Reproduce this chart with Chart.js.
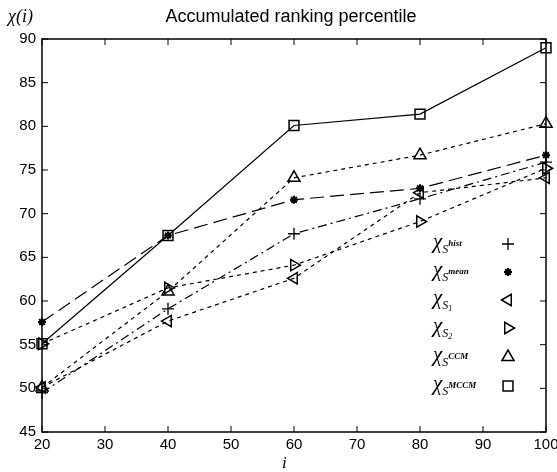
<!DOCTYPE html>
<html>
<head>
<meta charset="utf-8">
<script src="https://cdn.jsdelivr.net/npm/chart.js@4/dist/chart.umd.min.js"></script>
<style>
body { margin: 0; background: #fff; }
#wrap { position: relative; width: 557px; height: 472px; }
.txt { position: absolute; color: #000; white-space: nowrap; }
#title { left: 0; width: 582px; top: 6px; text-align: center; font: 18px "Liberation Sans", Arial, sans-serif; }
#ylab { left: 8px; top: 6px; font: italic 18px "Liberation Serif", "DejaVu Serif", serif; }
#xlab { left: 282px; top: 453px; font: italic 17px "Liberation Serif", "DejaVu Serif", serif; }
.leg { left: 433px; font: italic 21px "Liberation Serif", "DejaVu Serif", serif; line-height: 22px; }
.leg sub { font-size: 12px; vertical-align: -5px; }
.leg sub sup { font-size: 9px; font-weight: bold; vertical-align: 7px; }
.leg sub sub { font-size: 8px; vertical-align: -2px; }
</style>
</head>
<body>
<div id="wrap">
  <canvas id="chart" width="557" height="472"></canvas>
  <div class="txt" id="title">Accumulated ranking percentile</div>
  <div class="txt" id="ylab">χ(<i>i</i>)</div>
  <div class="txt" id="xlab">i</div>
</div>
<script>
// data
const positions = [20, 40, 60, 80, 100];
const hist = [49.5, 59.1, 67.7, 71.7, 75.9];
const mean = [57.6, 67.5, 71.6, 72.9, 76.7];
const s1 = [50.1, 57.7, 62.6, 72.4, 74.1];
const s2 = [55.1, 61.5, 64.1, 69.1, 75.2];
const ccm = [50.1, 61.1, 74.1, 76.7, 80.3];
const mccm = [55.1, 67.5, 80.1, 81.4, 89.0];

const xTicks = [20, 30, 40, 50, 60, 70, 80, 90, 100];
const yTicks = [45, 50, 55, 60, 65, 70, 75, 80, 85, 90];

const legendNames = ['hist', 'mean', '1', '2', 'CCM', 'MCCM'];
const legendKind = ['sup', 'sup', 'sub', 'sub', 'sup', 'sup'];

const pts = arr => arr.map((v, i) => ({ x: positions[i], y: v }));

function ds(label, values, style, rotation, radius, dash, bw) {
  return {
    label: label,
    data: pts(values),
    borderColor: '#000',
    backgroundColor: 'rgba(0,0,0,0)',
    borderWidth: 1.2,
    borderDash: dash,
    pointStyle: style,
    rotation: rotation,
    pointRadius: radius,
    pointBorderWidth: bw,
    pointBorderColor: '#000',
    pointBackgroundColor: 'rgba(0,0,0,0)',
    tension: 0,
    clip: false
  };
}

const datasets = [
  ds('hist', hist, 'cross', 0, 6, [9, 4, 2, 4], 1.3),
  ds('mean', mean, 'star', 0, 4, [14, 6], 2),
  ds('S1', s1, 'triangle', -90, 6.5, [4, 4], 1.5),
  ds('S2', s2, 'triangle', 90, 6.5, [4, 4], 1.5),
  ds('CCM', ccm, 'triangle', 0, 7, [4, 4], 1.5),
  ds('MCCM', mccm, 'rect', 0, 7, [], 1.5)
];

const legendY = [244, 272, 300, 328, 357, 386];
const legendMarkX = 508;

// legend labels as html
const wrap = document.getElementById('wrap');
legendNames.forEach((n, i) => {
  const d = document.createElement('div');
  d.className = 'txt leg';
  d.style.top = (legendY[i] - 14) + 'px';
  d.innerHTML = legendKind[i] === 'sup'
    ? 'χ<sub>S<sup>' + n + '</sup></sub>'
    : 'χ<sub>S<sub>' + n + '</sub></sub>';
  wrap.appendChild(d);
});

const frame = {
  id: 'frame',
  afterDatasetsDraw(chart) {
    const ctx = chart.ctx;
    const a = chart.chartArea;
    const xs = chart.scales.x, ys = chart.scales.y;
    ctx.save();
    ctx.setLineDash([]);
    ctx.strokeStyle = '#000';
    ctx.lineWidth = 1.5;
    ctx.strokeRect(a.left, a.top, a.right - a.left, a.bottom - a.top);
    ctx.lineWidth = 1;
    ctx.beginPath();
    xTicks.forEach(t => {
      const px = xs.getPixelForValue(t);
      ctx.moveTo(px, a.bottom); ctx.lineTo(px, a.bottom - 6);
      ctx.moveTo(px, a.top); ctx.lineTo(px, a.top + 6);
    });
    yTicks.forEach(t => {
      const py = ys.getPixelForValue(t);
      ctx.moveTo(a.left, py); ctx.lineTo(a.left + 6, py);
      ctx.moveTo(a.right, py); ctx.lineTo(a.right - 6, py);
    });
    ctx.stroke();
    // legend markers
    chart.data.datasets.forEach((d, i) => {
      ctx.strokeStyle = '#000';
      ctx.fillStyle = 'rgba(0,0,0,0)';
      ctx.lineWidth = d.pointBorderWidth;
      Chart.helpers.drawPoint(ctx, {
        pointStyle: d.pointStyle,
        rotation: d.rotation,
        radius: d.pointRadius,
        borderWidth: d.pointBorderWidth
      }, legendMarkX, legendY[i]);
    });
    ctx.restore();
  }
};

new Chart(document.getElementById('chart'), {
  type: 'line',
  data: { datasets: datasets },
  plugins: [frame],
  options: {
    responsive: false,
    animation: false,
    layout: { padding: { top: 39, right: 11, left: 0, bottom: 0 } },
    plugins: { legend: { display: false }, title: { display: false }, tooltip: { enabled: false } },
    scales: {
      x: {
        type: 'linear', min: 20, max: 100,
        afterBuildTicks: s => { s.ticks = xTicks.map(v => ({ value: v })); },
        afterFit: s => { s.height = 40; s.paddingLeft = 0; s.paddingRight = 0; },
        grid: { display: false, drawTicks: false },
        border: { display: false },
        ticks: { color: '#000', padding: 4, maxRotation: 0, autoSkip: false,
          font: { family: 'Liberation Sans', size: 15 } }
      },
      y: {
        type: 'linear', min: 45, max: 90,
        afterBuildTicks: s => { s.ticks = yTicks.map(v => ({ value: v })); },
        afterFit: s => { s.width = 42; s.paddingTop = 0; s.paddingBottom = 0; },
        grid: { display: false, drawTicks: false },
        border: { display: false },
        ticks: { color: '#000', padding: 6, autoSkip: false,
          font: { family: 'Liberation Sans', size: 15 } }
      }
    }
  }
});
</script>
</body>
</html>
